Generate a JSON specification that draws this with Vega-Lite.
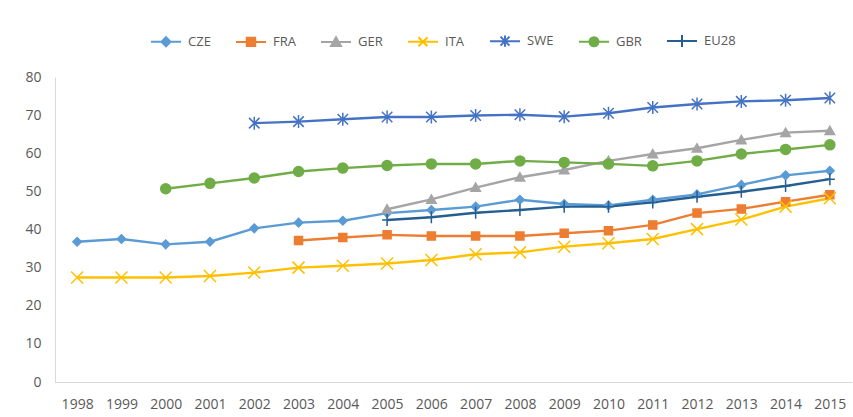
{
  "$schema": "https://vega.github.io/schema/vega-lite/v6.json",
  "width": 797,
  "height": 305,
  "autosize": {"type": "none"},
  "padding": {"left": 55, "top": 77, "right": 1, "bottom": 35},
  "background": "white",
  "config": {"view": {"stroke": null}, "font": "Open Sans"},
  "data": {
    "values": [
      {"year": 1998, "country": "CZE", "value": 36.8},
      {"year": 1999, "country": "CZE", "value": 37.5},
      {"year": 2000, "country": "CZE", "value": 36.1},
      {"year": 2001, "country": "CZE", "value": 36.8},
      {"year": 2002, "country": "CZE", "value": 40.3},
      {"year": 2003, "country": "CZE", "value": 41.8},
      {"year": 2004, "country": "CZE", "value": 42.3},
      {"year": 2005, "country": "CZE", "value": 44.3},
      {"year": 2006, "country": "CZE", "value": 45.1},
      {"year": 2007, "country": "CZE", "value": 46.0},
      {"year": 2008, "country": "CZE", "value": 47.8},
      {"year": 2009, "country": "CZE", "value": 46.7},
      {"year": 2010, "country": "CZE", "value": 46.3},
      {"year": 2011, "country": "CZE", "value": 47.8},
      {"year": 2012, "country": "CZE", "value": 49.2},
      {"year": 2013, "country": "CZE", "value": 51.7},
      {"year": 2014, "country": "CZE", "value": 54.2},
      {"year": 2015, "country": "CZE", "value": 55.4},
      {"year": 2003, "country": "FRA", "value": 37.1},
      {"year": 2004, "country": "FRA", "value": 37.9},
      {"year": 2005, "country": "FRA", "value": 38.6},
      {"year": 2006, "country": "FRA", "value": 38.3},
      {"year": 2007, "country": "FRA", "value": 38.3},
      {"year": 2008, "country": "FRA", "value": 38.3},
      {"year": 2009, "country": "FRA", "value": 39.0},
      {"year": 2010, "country": "FRA", "value": 39.7},
      {"year": 2011, "country": "FRA", "value": 41.2},
      {"year": 2012, "country": "FRA", "value": 44.3},
      {"year": 2013, "country": "FRA", "value": 45.4},
      {"year": 2014, "country": "FRA", "value": 47.3},
      {"year": 2015, "country": "FRA", "value": 49.1},
      {"year": 2005, "country": "GER", "value": 45.3},
      {"year": 2006, "country": "GER", "value": 47.9},
      {"year": 2007, "country": "GER", "value": 51.0},
      {"year": 2008, "country": "GER", "value": 53.7},
      {"year": 2009, "country": "GER", "value": 55.6},
      {"year": 2010, "country": "GER", "value": 58.0},
      {"year": 2011, "country": "GER", "value": 59.8},
      {"year": 2012, "country": "GER", "value": 61.3},
      {"year": 2013, "country": "GER", "value": 63.5},
      {"year": 2014, "country": "GER", "value": 65.4},
      {"year": 2015, "country": "GER", "value": 65.9},
      {"year": 1998, "country": "ITA", "value": 27.4},
      {"year": 1999, "country": "ITA", "value": 27.4},
      {"year": 2000, "country": "ITA", "value": 27.4},
      {"year": 2001, "country": "ITA", "value": 27.8},
      {"year": 2002, "country": "ITA", "value": 28.7},
      {"year": 2003, "country": "ITA", "value": 30.0},
      {"year": 2004, "country": "ITA", "value": 30.5},
      {"year": 2005, "country": "ITA", "value": 31.1},
      {"year": 2006, "country": "ITA", "value": 32.0},
      {"year": 2007, "country": "ITA", "value": 33.5},
      {"year": 2008, "country": "ITA", "value": 34.0},
      {"year": 2009, "country": "ITA", "value": 35.5},
      {"year": 2010, "country": "ITA", "value": 36.4},
      {"year": 2011, "country": "ITA", "value": 37.5},
      {"year": 2012, "country": "ITA", "value": 40.1},
      {"year": 2013, "country": "ITA", "value": 42.6},
      {"year": 2014, "country": "ITA", "value": 46.0},
      {"year": 2015, "country": "ITA", "value": 48.2},
      {"year": 2002, "country": "SWE", "value": 67.9},
      {"year": 2003, "country": "SWE", "value": 68.3},
      {"year": 2004, "country": "SWE", "value": 68.9},
      {"year": 2005, "country": "SWE", "value": 69.5},
      {"year": 2006, "country": "SWE", "value": 69.5},
      {"year": 2007, "country": "SWE", "value": 69.9},
      {"year": 2008, "country": "SWE", "value": 70.1},
      {"year": 2009, "country": "SWE", "value": 69.6},
      {"year": 2010, "country": "SWE", "value": 70.5},
      {"year": 2011, "country": "SWE", "value": 72.0},
      {"year": 2012, "country": "SWE", "value": 72.9},
      {"year": 2013, "country": "SWE", "value": 73.6},
      {"year": 2014, "country": "SWE", "value": 73.9},
      {"year": 2015, "country": "SWE", "value": 74.5},
      {"year": 2000, "country": "GBR", "value": 50.7},
      {"year": 2001, "country": "GBR", "value": 52.1},
      {"year": 2002, "country": "GBR", "value": 53.5},
      {"year": 2003, "country": "GBR", "value": 55.2},
      {"year": 2004, "country": "GBR", "value": 56.1},
      {"year": 2005, "country": "GBR", "value": 56.8},
      {"year": 2006, "country": "GBR", "value": 57.2},
      {"year": 2007, "country": "GBR", "value": 57.2},
      {"year": 2008, "country": "GBR", "value": 58.0},
      {"year": 2009, "country": "GBR", "value": 57.6},
      {"year": 2010, "country": "GBR", "value": 57.2},
      {"year": 2011, "country": "GBR", "value": 56.7},
      {"year": 2012, "country": "GBR", "value": 58.0},
      {"year": 2013, "country": "GBR", "value": 59.8},
      {"year": 2014, "country": "GBR", "value": 61.0},
      {"year": 2015, "country": "GBR", "value": 62.2},
      {"year": 2005, "country": "EU28", "value": 42.5},
      {"year": 2006, "country": "EU28", "value": 43.2},
      {"year": 2007, "country": "EU28", "value": 44.4},
      {"year": 2008, "country": "EU28", "value": 45.1},
      {"year": 2009, "country": "EU28", "value": 46.0},
      {"year": 2010, "country": "EU28", "value": 46.0},
      {"year": 2011, "country": "EU28", "value": 47.1},
      {"year": 2012, "country": "EU28", "value": 48.6},
      {"year": 2013, "country": "EU28", "value": 49.9},
      {"year": 2014, "country": "EU28", "value": 51.4},
      {"year": 2015, "country": "EU28", "value": 53.2}
    ]
  },
  "encoding": {
    "x": {
      "field": "year",
      "type": "ordinal",
      "scale": {"type": "point", "padding": 0.5},
      "axis": {
        "title": null,
        "labelAngle": 0,
        "ticks": false,
        "grid": false,
        "domainColor": "#D9D9D9",
        "domainWidth": 1,
        "labelFontSize": 14,
        "labelColor": "#595959",
        "labelPadding": 15,
        "labelOverlap": false
      }
    },
    "y": {
      "field": "value",
      "type": "quantitative",
      "scale": {"domain": [0, 80], "nice": false},
      "axis": {
        "title": null,
        "values": [0, 10, 20, 30, 40, 50, 60, 70, 80],
        "ticks": false,
        "grid": false,
        "domainColor": "#D9D9D9",
        "domainWidth": 1,
        "labelFontSize": 14,
        "labelColor": "#595959",
        "labelPadding": 14
      }
    }
  },
  "layer": [
    {
      "mark": {"type": "line", "strokeWidth": 2.4},
      "encoding": {
        "color": {
          "field": "country",
          "type": "nominal",
          "scale": {
            "domain": ["CZE", "FRA", "GER", "ITA", "SWE", "GBR", "EU28"],
            "range": ["#5B9BD5", "#ED7D31", "#A5A5A5", "#FFC000", "#4472C4", "#70AD47", "#255E91"]
          },
          "legend": {
            "orient": "none",
            "legendX": 95,
            "legendY": -52,
            "direction": "horizontal",
            "title": null,
            "padding": 0,
            "labelFontSize": 13,
            "labelColor": "#595959",
            "labelOffset": 6,
            "columnPadding": 21,
            "symbolSize": 900,
            "symbolStrokeWidth": 2,
            "symbolOpacity": 1
          }
        }
      }
    },
    {
      "transform": [{"filter": {"field": "country", "equal": "CZE"}}],
      "mark": {"type": "point", "shape": "M0,-0.85L0.85,0L0,0.85L-0.85,0Z", "filled": true, "color": "#5B9BD5", "stroke": "#5B9BD5", "strokeWidth": 1.5, "size": 100, "opacity": 1}
    },
    {
      "transform": [{"filter": {"field": "country", "equal": "FRA"}}],
      "mark": {"type": "point", "shape": "M-0.8,-0.8H0.8V0.8H-0.8Z", "filled": true, "color": "#ED7D31", "stroke": "#ED7D31", "strokeWidth": 1.5, "size": 100, "opacity": 1}
    },
    {
      "transform": [{"filter": {"field": "country", "equal": "GER"}}],
      "mark": {"type": "point", "shape": "M0,-0.9L0.95,0.75H-0.95Z", "filled": true, "color": "#A5A5A5", "stroke": "#A5A5A5", "strokeWidth": 1.5, "size": 100, "opacity": 1}
    },
    {
      "transform": [{"filter": {"field": "country", "equal": "ITA"}}],
      "mark": {"type": "point", "shape": "M-1.2,-1.2L1.2,1.2M-1.2,1.2L1.2,-1.2", "filled": false, "color": "#FFC000", "stroke": "#FFC000", "strokeWidth": 1.5, "size": 100, "opacity": 1}
    },
    {
      "transform": [{"filter": {"field": "country", "equal": "SWE"}}],
      "mark": {"type": "point", "shape": "M0,-1.3V1.3M-1.05,-1.05L1.05,1.05M-1.05,1.05L1.05,-1.05", "filled": false, "color": "#4472C4", "stroke": "#4472C4", "strokeWidth": 1.5, "size": 100, "opacity": 1}
    },
    {
      "transform": [{"filter": {"field": "country", "equal": "GBR"}}],
      "mark": {"type": "point", "shape": "circle", "filled": true, "color": "#70AD47", "stroke": "#70AD47", "strokeWidth": 1.5, "size": 100, "opacity": 1}
    },
    {
      "transform": [{"filter": {"field": "country", "equal": "EU28"}}],
      "mark": {"type": "point", "shape": "M-1,0H1M0,-1.2V1.2", "filled": false, "color": "#255E91", "stroke": "#255E91", "strokeWidth": 1.5, "size": 100, "opacity": 1}
    },
    {
      "mark": {"type": "point", "filled": true, "opacity": 0, "size": 100},
      "encoding": {
        "color": {"field": "country", "type": "nominal"},
        "stroke": {
          "field": "country",
          "type": "nominal",
          "scale": {
            "domain": ["CZE", "FRA", "GER", "ITA", "SWE", "GBR", "EU28"],
            "range": ["#5B9BD5", "#ED7D31", "#A5A5A5", "#FFC000", "#4472C4", "#70AD47", "#255E91"]
          },
          "legend": null
        },
        "shape": {
          "field": "country",
          "type": "nominal",
          "scale": {
            "domain": ["CZE", "FRA", "GER", "ITA", "SWE", "GBR", "EU28"],
            "range": [
              "M-1,0H1M0,-0.3L0.3,0L0,0.3L-0.3,0Z",
              "M-1,0H1M-0.28,-0.28H0.28V0.28H-0.28Z",
              "M-1,0H1M0,-0.32L0.33,0.26H-0.33Z",
              "M-1,0H1M-0.3,-0.3L0.3,0.3M-0.3,0.3L0.3,-0.3",
              "M-1,0H1M0,-0.38V0.38M-0.3,-0.3L0.3,0.3M-0.3,0.3L0.3,-0.3",
              "M-1,0H1M0.3,0A0.3,0.3,0,1,1,-0.3,0A0.3,0.3,0,1,1,0.3,0Z",
              "M-1,0H1M0,-0.4V0.4"
            ]
          },
          "legend": null
        }
      }
    }
  ]
}
